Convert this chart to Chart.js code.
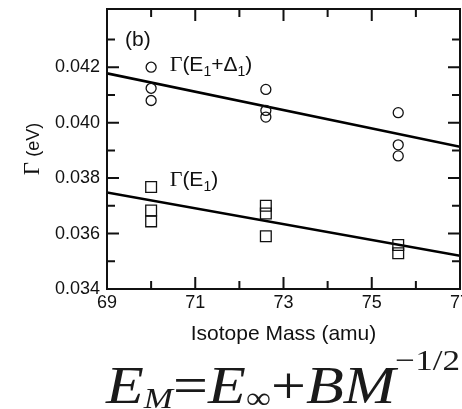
<!DOCTYPE html>
<html>
<head>
<meta charset="utf-8">
<script src="https://cdn.jsdelivr.net/npm/chart.js@4.4.1/dist/chart.umd.min.js"></script>
<style>
  html, body { margin: 0; padding: 0; background: #fff; }
  #wrap { position: relative; width: 462px; height: 409px; overflow: hidden; }
  #eq {
    position: absolute; left: 106px; top: 359px;
    font-family: 'Liberation Serif', 'Times New Roman', serif;
    font-size: 53px; color: #1a1a1a; white-space: nowrap; line-height: 1;
    transform-origin: 0 0;
  }
  #eq i { font-style: italic; }
  #eq .sub { font-size: 30px; position: relative; top: 5px; }
  #eq .sup { font-size: 30px; position: relative; top: -33px; }
</style>
</head>
<body>
<div id="wrap">
  <canvas id="chart" width="462" height="409"></canvas>
  <div id="eq"><i>E</i><span class="sub"><i>M</i></span>=<i>E</i><span class="sub">∞</span>+<i>B</i><i>M</i><span class="sup">−1/2</span></div>
</div>
<script>
// Isotope-averaged masses (amu)
const massGroups = [70, 72.6, 75.6];
// Γ(E1+Δ1) broadenings (eV), one list per mass
const gammaE1Delta = [
  [0.0420, 0.04124, 0.0408],
  [0.0412, 0.04044, 0.0402],
  [0.04036, 0.0392, 0.0388]
];
// Γ(E1) broadenings (eV), one list per mass
const gammaE1 = [
  [0.03768, 0.03683, 0.03644],
  [0.0370, 0.03672, 0.0359],
  [0.03559, 0.03529]
];
// fitted lines
const fitMass = [69, 77];
const fitE1Delta = [0.04178, 0.03913];
const fitE1 = [0.03748, 0.0352];
// axis labels
const xTickLabels = [69, 71, 73, 75, 77];
const yTickLabels = [0.034, 0.036, 0.038, 0.040, 0.042];

const SANS = "'Liberation Sans', Arial, sans-serif";
const SERIF = "'Liberation Serif', 'Times New Roman', serif";

// stretch the formula line to span the plot width
(function fitFormula() {
  const eq = document.getElementById('eq');
  const w = eq.getBoundingClientRect().width;
  eq.style.transform = 'scaleX(' + (354 / w).toFixed(4) + ')';
})();

function toPoints(groups) {
  const pts = [];
  groups.forEach((vals, i) => vals.forEach(v => pts.push({ x: massGroups[i], y: v })));
  return pts;
}
function toLine(ys) {
  return fitMass.map((m, i) => ({ x: m, y: ys[i] }));
}
const near = (a, b) => Math.abs(a - b) < 1e-7;

// draw a run of [text, font, dy] pieces starting at x, baseline y
function drawRun(ctx, pieces, x, y) {
  pieces.forEach(([t, f, dy]) => {
    ctx.font = f;
    ctx.fillText(t, x, y + (dy || 0));
    x += ctx.measureText(t).width;
  });
}
function runWidth(ctx, pieces) {
  let w = 0;
  pieces.forEach(([t, f]) => { ctx.font = f; w += ctx.measureText(t).width; });
  return w;
}

const framePlugin = {
  id: 'frameTicks',
  afterDraw(chart) {
    const { ctx, chartArea: a, scales: { x, y } } = chart;
    ctx.save();
    ctx.strokeStyle = '#111';
    ctx.lineWidth = 2;
    ctx.strokeRect(a.left, a.top, a.right - a.left, a.bottom - a.top);
    ctx.beginPath();
    x.ticks.forEach(t => {
      if (!near(t.value, Math.round(t.value))) return;
      const major = xTickLabels.some(v => near(v, t.value));
      const len = major ? 12 : 8;
      const px = x.getPixelForValue(t.value);
      ctx.moveTo(px, a.bottom); ctx.lineTo(px, a.bottom - len);
      ctx.moveTo(px, a.top); ctx.lineTo(px, a.top + len);
    });
    y.ticks.forEach(t => {
      if (!near(t.value * 1000, Math.round(t.value * 1000))) return;
      const major = yTickLabels.some(v => near(v, t.value));
      const len = major ? 12 : 8;
      const py = y.getPixelForValue(t.value);
      ctx.moveTo(a.left, py); ctx.lineTo(a.left + len, py);
      ctx.moveTo(a.right, py); ctx.lineTo(a.right - len, py);
    });
    ctx.stroke();

    ctx.fillStyle = '#111';
    ctx.textBaseline = 'alphabetic';
    // panel tag
    ctx.font = '21px ' + SANS;
    ctx.fillText('(b)', x.getPixelForValue(69.41), y.getPixelForValue(0.04278));
    // series labels
    const big = '21px ' + SANS, sub = '14px ' + SANS, g = '22px ' + SERIF;
    drawRun(ctx, [['Γ', g], ['(E', big], ['1', sub, 5], ['+Δ', big], ['1', sub, 5], [')', big]],
      x.getPixelForValue(70.42), y.getPixelForValue(0.04187));
    drawRun(ctx, [['Γ', g], ['(E', big], ['1', sub, 5], [')', big]],
      x.getPixelForValue(70.42), y.getPixelForValue(0.03771));

    // y-axis title, rotated
    const tp = [['Γ', '23px ' + SERIF], [' (eV)', '18px ' + SANS]];
    const w = runWidth(ctx, tp);
    ctx.translate(39, (a.top + a.bottom) / 2);
    ctx.rotate(-Math.PI / 2);
    drawRun(ctx, tp, -w / 2, 0);
    ctx.restore();
  }
};

new Chart(document.getElementById('chart'), {
  type: 'scatter',
  data: {
    datasets: [
      {
        data: toPoints(gammaE1Delta),
        pointStyle: 'circle', pointRadius: 5, pointBorderWidth: 1.3,
        borderColor: '#111', backgroundColor: 'rgba(255,255,255,0)'
      },
      {
        data: toPoints(gammaE1),
        pointStyle: 'rect', pointRadius: 7.6, pointBorderWidth: 1.3,
        borderColor: '#111', backgroundColor: 'rgba(255,255,255,0)'
      },
      {
        type: 'line', data: toLine(fitE1Delta), showLine: true,
        borderColor: '#000', borderWidth: 2.6, pointRadius: 0, fill: false
      },
      {
        type: 'line', data: toLine(fitE1), showLine: true,
        borderColor: '#000', borderWidth: 2.6, pointRadius: 0, fill: false
      }
    ]
  },
  options: {
    responsive: false,
    animation: false,
    events: [],
    layout: { autoPadding: false, padding: { top: 9, right: 2, left: 0, bottom: 0 } },
    plugins: { legend: { display: false }, tooltip: { enabled: false } },
    scales: {
      x: {
        type: 'linear', min: 69, max: 77,
        grid: { display: false, drawTicks: false },
        border: { display: false },
        ticks: {
          stepSize: 1, autoSkip: false, maxRotation: 0, padding: 3,
          color: '#111', font: { family: SANS, size: 18 },
          callback: v => xTickLabels.some(t => near(t, v)) ? String(v) : ''
        },
        title: {
          display: true, text: 'Isotope Mass (amu)', color: '#111',
          font: { family: SANS, size: 21 }, padding: { top: 0, bottom: 62 }
        },
        afterFit: s => { s.height = 120; s.paddingLeft = 0; s.paddingRight = 0; }
      },
      y: {
        type: 'linear', min: 0.034, max: 0.0441,
        grid: { display: false, drawTicks: false },
        border: { display: false },
        ticks: {
          stepSize: 0.001, autoSkip: false, padding: 7,
          color: '#111', font: { family: SANS, size: 18 },
          callback: v => yTickLabels.some(t => near(t, v)) ? v.toFixed(3) : ''
        },
        afterFit: s => { s.width = 107; s.paddingTop = 0; s.paddingBottom = 0; }
      }
    }
  },
  plugins: [framePlugin]
});
</script>
</body>
</html>
